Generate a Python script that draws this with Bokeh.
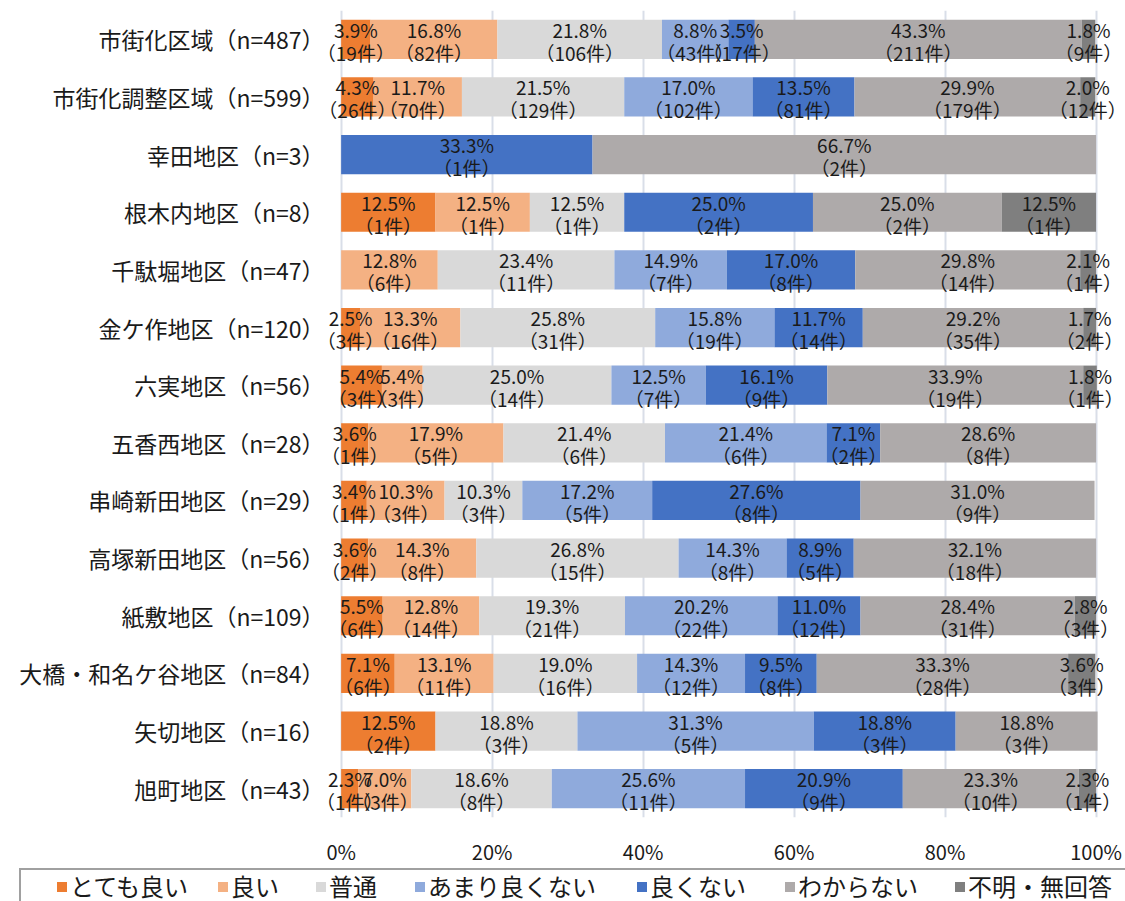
from bokeh.plotting import figure
from bokeh.layouts import column
from bokeh.models import FactorRange, Range1d, FixedTicker, ColumnDataSource, Div
from bokeh.core.properties import value
from bokeh.embed import file_html
from bokeh.resources import INLINE

categories = [
    "市街化区域（n=487）", "市街化調整区域（n=599）", "幸田地区（n=3）", "根木内地区（n=8）",
    "千駄堀地区（n=47）", "金ケ作地区（n=120）", "六実地区（n=56）", "五香西地区（n=28）",
    "串崎新田地区（n=29）", "高塚新田地区（n=56）", "紙敷地区（n=109）",
    "大橋・和名ケ谷地区（n=84）", "矢切地区（n=16）", "旭町地区（n=43）",
]
series_names = ["とても良い", "良い", "普通", "あまり良くない", "良くない", "わからない", "不明・無回答"]
series_colors = ["#ED7D31", "#F4B183", "#D9D9D9", "#8FAADC", "#4472C4", "#AEAAAA", "#7F7F7F"]

very_good_pct = [3.9, 4.3, 0, 12.5, 0, 2.5, 5.4, 3.6, 3.4, 3.6, 5.5, 7.1, 12.5, 2.3]
very_good_n = [19, 26, 0, 1, 0, 3, 3, 1, 1, 2, 6, 6, 2, 1]
good_pct = [16.8, 11.7, 0, 12.5, 12.8, 13.3, 5.4, 17.9, 10.3, 14.3, 12.8, 13.1, 0, 7.0]
good_n = [82, 70, 0, 1, 6, 16, 3, 5, 3, 8, 14, 11, 0, 3]
normal_pct = [21.8, 21.5, 0, 12.5, 23.4, 25.8, 25.0, 21.4, 10.3, 26.8, 19.3, 19.0, 18.8, 18.6]
normal_n = [106, 129, 0, 1, 11, 31, 14, 6, 3, 15, 21, 16, 3, 8]
not_good_pct = [8.8, 17.0, 0, 0, 14.9, 15.8, 12.5, 21.4, 17.2, 14.3, 20.2, 14.3, 31.3, 25.6]
not_good_n = [43, 102, 0, 0, 7, 19, 7, 6, 5, 8, 22, 12, 5, 11]
bad_pct = [3.5, 13.5, 33.3, 25.0, 17.0, 11.7, 16.1, 7.1, 27.6, 8.9, 11.0, 9.5, 18.8, 20.9]
bad_n = [17, 81, 1, 2, 8, 14, 9, 2, 8, 5, 12, 8, 3, 9]
unknown_pct = [43.3, 29.9, 66.7, 25.0, 29.8, 29.2, 33.9, 28.6, 31.0, 32.1, 28.4, 33.3, 18.8, 23.3]
unknown_n = [211, 179, 2, 2, 14, 35, 19, 8, 9, 18, 31, 28, 3, 10]
no_answer_pct = [1.8, 2.0, 0, 12.5, 2.1, 1.7, 1.8, 0, 0, 0, 2.8, 3.6, 0, 2.3]
no_answer_n = [9, 12, 0, 1, 1, 2, 1, 0, 0, 0, 3, 3, 0, 1]

x_ticks = [0, 20, 40, 60, 80, 100]
x_tick_labels = ["0%", "20%", "40%", "60%", "80%", "100%"]

pct_series = [very_good_pct, good_pct, normal_pct, not_good_pct, bad_pct, unknown_pct, no_answer_pct]
n_series = [very_good_n, good_n, normal_n, not_good_n, bad_n, unknown_n, no_answer_n]

FONT = "Noto Sans CJK JP"
TXT = "#1a1a1a"

# x range padded so that labels on the edge bars are not clipped by the frame
p = figure(
    width=1125, height=868,
    y_range=FactorRange(factors=list(reversed(categories))),
    x_range=Range1d(-3, 103.9),
    output_backend="svg", toolbar_location=None,
    min_border_left=318, min_border_right=0, min_border_top=10, min_border_bottom=43,
)
p.outline_line_color = None
p.border_fill_color = "white"

# bars first
cum = [0.0] * len(categories)
label_sources = []
for name, color, pcts, ns in zip(series_names, series_colors, pct_series, n_series):
    left = list(cum)
    right = [c + v for c, v in zip(cum, pcts)]
    src = ColumnDataSource(dict(y=categories, left=left, right=right))
    p.hbar(y="y", left="left", right="right", height=0.68, source=src,
           fill_color=color, line_color=None)
    mids, ys, t1, t2 = [], [], [], []
    for i, (l, rr, v, n) in enumerate(zip(left, right, pcts, ns)):
        if v > 0:
            mids.append((l + rr) / 2)
            ys.append(categories[i])
            t1.append(f"{v:.1f}%")
            t2.append(f"（{n}件）")
    label_sources.append(ColumnDataSource(dict(x=mids, y=ys, t1=t1, t2=t2)))
    cum = right

# then all labels on top
for tsrc in label_sources:
    p.text(x="x", y="y", text="t1", source=tsrc, text_align="center", text_baseline="middle",
           y_offset=-10, text_font=value(FONT), text_font_size="19px", text_color=TXT)
    p.text(x="x", y="y", text="t2", source=tsrc, text_align="center", text_baseline="middle",
           y_offset=13, text_font=value(FONT), text_font_size="19px", text_color=TXT)

p.xgrid.ticker = FixedTicker(ticks=x_ticks)
p.xgrid.grid_line_color = "#D9DEE8"
p.xgrid.grid_line_width = 2
p.ygrid.grid_line_color = None

p.xaxis.ticker = FixedTicker(ticks=x_ticks)
p.xaxis.major_label_overrides = {t: l for t, l in zip(x_ticks, x_tick_labels)}
p.xaxis.axis_line_color = None
p.xaxis.major_tick_line_color = None
p.xaxis.minor_tick_line_color = None
p.xaxis.major_label_text_font = FONT
p.xaxis.major_label_text_font_size = "20px"
p.xaxis.major_label_text_color = TXT
p.xaxis.major_label_standoff = 13

p.yaxis.axis_line_color = None
p.yaxis.major_tick_line_color = None
p.yaxis.minor_tick_line_color = None
p.yaxis.major_label_text_font = FONT
p.yaxis.major_label_text_font_size = "23px"
p.yaxis.major_label_text_color = TXT
p.yaxis.major_label_standoff = -12

# legend (HTML, boxed, below the chart; the box runs off the right and bottom edges)
legend_x = [57, 218, 316, 415, 637, 785, 955]
parts = [
    '<div style="position:relative;width:1125px;height:33px;margin:0;padding:0;'
    f"font-family:'{FONT}';font-size:24px;color:{TXT};white-space:nowrap;\">",
    '<div style="position:absolute;left:19px;top:0px;width:1106px;height:33px;'
    'border-top:2px solid #A0A0A0;border-left:2px solid #A0A0A0;box-sizing:border-box;"></div>',
]
for name, color, x in zip(series_names, series_colors, legend_x):
    parts.append(
        f'<div style="position:absolute;left:{x}px;top:14px;width:10px;height:10px;background:{color};"></div>'
        f'<div style="position:absolute;left:{x + 13}px;top:6px;line-height:24px;">{name}</div>'
    )
parts.append("</div>")
legend_div = Div(text="".join(parts), width=1125, height=33, margin=0)

layout = column(p, legend_div, spacing=0)
open("out.html", "w").write(file_html(layout, INLINE))
